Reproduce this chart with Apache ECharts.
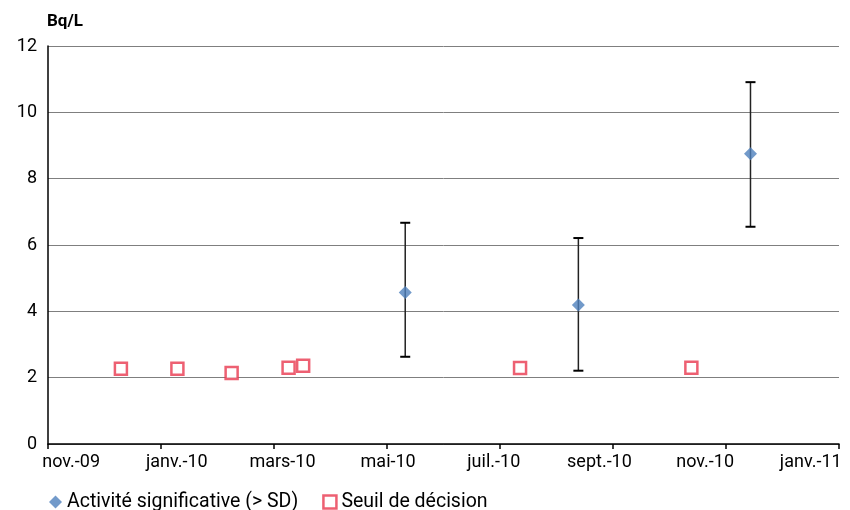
<!DOCTYPE html>
<html><head><meta charset="utf-8">
<script src="https://cdn.jsdelivr.net/npm/echarts@6/dist/echarts.min.js"></script>
<style>html,body{margin:0;padding:0;background:#fff}#c{width:850px;height:510px}</style>
</head><body><div id="c"></div>
<script>
// x tick labels (every 2 months from nov.-09)
const xTickLabels = ['nov.-09','janv.-10','mars-10','mai-10','juil.-10','sept.-10','nov.-10','janv.-11'];
const xTickValues = [0, 2, 4, 6, 8, 10, 12, 14];
// Activité significative (> SD)
const actDates = ['2010-05-11','2010-08-13','2010-11-14'];
const actValues = [4.57, 4.19, 8.75];
const actLow = [2.63, 2.21, 6.55];
const actHigh = [6.67, 6.21, 10.91];
// Seuil de décision
const sdDates = ['2009-12-10','2010-01-10','2010-02-08','2010-03-09','2010-03-17','2010-07-12','2010-10-13'];
const sdValues = [2.27, 2.27, 2.14, 2.30, 2.36, 2.29, 2.30];

// months since 1 Nov 2009 (fractional)
function monthPos(s){
  const [y,m,d] = s.split('-').map(Number);
  const dim = new Date(y, m, 0).getDate();
  return (y-2009)*12 + (m-11) + (d-1)/dim;
}
// layout: labels are spread evenly (as in the original spreadsheet rendering), slightly off the ticks
const LABEL_START = 0.41, LABEL_STEP = 1.87;
const labelSpots = xTickLabels.map((_, i) => LABEL_START + i * LABEL_STEP);

const FONT = 'Roboto, "Open Sans", sans-serif';
const chart = echarts.init(document.getElementById('c'));
chart.setOption({
  animation:false,
  backgroundColor:'#fff',
  textStyle:{fontFamily:FONT},
  graphic:[{type:'text', left:47, top:13, style:{text:'Bq/L', font:'bold 17px '+FONT, fill:'#000'}}],
  grid:{left:48, right:11, top:46, bottom:66, containLabel:false, outerBoundsMode:'none'},
  xAxis:{type:'value', min:0, max:14, interval:2,
    axisLine:{show:true, lineStyle:{color:'#000', width:1.5}},
    axisTick:{show:true, length:5, lineStyle:{color:'#000', width:1.5}, customValues:xTickValues},
    splitLine:{show:false},
    axisLabel:{color:'#000', fontSize:18, fontFamily:FONT, margin:9, customValues:labelSpots,
      showMinLabel:true, showMaxLabel:true, hideOverlap:false,
      formatter:v=>{
        let best=0, bd=1e9;
        labelSpots.forEach((s,i)=>{const d=Math.abs(s-v); if(d<bd){bd=d;best=i;}});
        return xTickLabels[best];
      }}
  },
  yAxis:{type:'value', min:0, max:12, interval:2,
    axisLine:{show:true, lineStyle:{color:'#000', width:1.5}},
    axisTick:{show:false},
    splitLine:{show:true, lineStyle:{color:'#7f7f7f', width:1}},
    axisLabel:{color:'#000', fontSize:18, fontFamily:FONT, margin:11}
  },
  legend:{left:44, top:487, itemWidth:13, itemHeight:13, itemGap:24,
    textStyle:{fontSize:19.5, color:'#000', fontFamily:FONT},
    data:[
      {name:'Activité significative (> SD)', icon:'diamond', itemStyle:{color:'#4f81bd'}},
      {name:'Seuil de décision', icon:'rect', itemStyle:{color:'#fff', borderColor:'#e8384f', borderWidth:2.5}}
    ]},
  series:[
    {type:'custom', name:'err', silent:true, z:3,
      data: actDates.map((d,i)=>[monthPos(d), actLow[i], actHigh[i]]),
      renderItem:function(params, api){
        const x = api.value(0);
        const lo = api.coord([x, api.value(1)]);
        const hi = api.coord([x, api.value(2)]);
        const w = 5;
        const st = {stroke:'#000', lineWidth:2};
        return {type:'group', children:[
          {type:'line', shape:{x1:lo[0], y1:lo[1], x2:hi[0], y2:hi[1]}, style:{stroke:'#222', lineWidth:1.5}},
          {type:'line', shape:{x1:lo[0]-w, y1:lo[1], x2:lo[0]+w, y2:lo[1]}, style:st},
          {type:'line', shape:{x1:hi[0]-w, y1:hi[1], x2:hi[0]+w, y2:hi[1]}, style:st}
        ]};
      }},
    {type:'scatter', name:'Activité significative (> SD)', symbol:'diamond', symbolSize:13, z:5,
      itemStyle:{color:'#4f81bd'},
      data: actDates.map((d,i)=>[monthPos(d), actValues[i]])},
    {type:'scatter', name:'Seuil de décision', symbol:'rect', symbolSize:12, z:5,
      itemStyle:{color:'#fff', borderColor:'#e8384f', borderWidth:2.5},
      data: sdDates.map((d,i)=>[monthPos(d), sdValues[i]])}
  ]
});
</script></body></html>
